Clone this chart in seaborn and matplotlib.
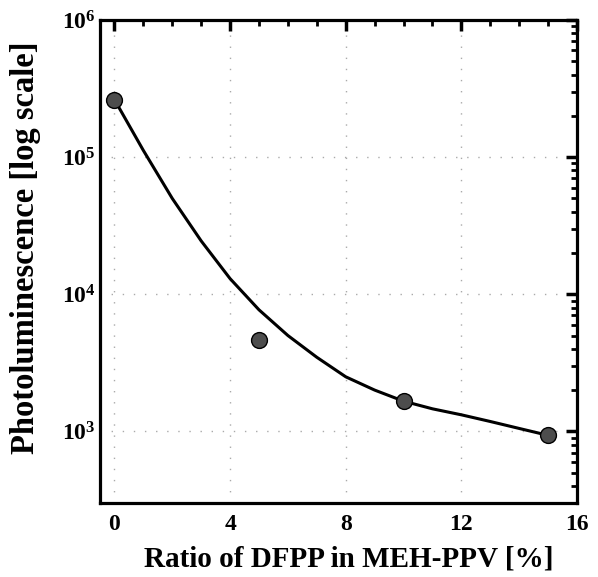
import numpy as np
import pandas as pd
import matplotlib
matplotlib.use("Agg")
import matplotlib.pyplot as plt
import seaborn as sns
from matplotlib.ticker import MultipleLocator, LogLocator, FixedLocator, NullFormatter

# measured points
ratio = [0, 5, 10, 15]
pl = [2.6e5, 4.6e3, 1.66e3, 935]

# fitted curve
curve_x = [0, 1, 2, 3, 4, 5, 6, 7, 8, 9, 10, 11, 12, 13, 14, 15]
curve_y = [2.63e5, 1.12e5, 5.0e4, 2.45e4, 1.3e4, 7.7e3, 5.0e3, 3.47e3,
           2.5e3, 2.0e3, 1.66e3, 1.46e3, 1.32e3, 1.18e3, 1.05e3, 935]

sns.set_style("white")
plt.rcParams["font.family"] = ["Liberation Serif", "DejaVu Serif"]
plt.rcParams["font.weight"] = "bold"
plt.rcParams["mathtext.fontset"] = "custom"
plt.rcParams["mathtext.rm"] = "Liberation Serif:bold"
plt.rcParams["mathtext.it"] = "Liberation Serif:bold"
plt.rcParams["mathtext.bf"] = "Liberation Serif:bold"
plt.rcParams["text.color"] = "black"
plt.rcParams["axes.labelcolor"] = "black"
plt.rcParams["xtick.color"] = "black"
plt.rcParams["ytick.color"] = "black"

df_pts = pd.DataFrame({"ratio": ratio, "pl": pl})
df_fit = pd.DataFrame({"ratio": curve_x, "pl": curve_y})

fig = plt.figure(figsize=(5.98, 5.77), dpi=100)
ax = fig.add_axes([0.1672, 0.1282, 0.7977, 0.837])

ax.set_yscale("log")
sns.lineplot(data=df_fit, x="ratio", y="pl", ax=ax, color="black", lw=2.2, zorder=3)
sns.scatterplot(data=df_pts, x="ratio", y="pl", ax=ax, s=130, color="#4d4d4d",
                edgecolor="black", linewidth=1.0, zorder=4)

ax.set_xlim(-0.5, 16)
ax.set_ylim(300, 1e6)

ax.xaxis.set_major_locator(MultipleLocator(4))
ax.xaxis.set_minor_locator(MultipleLocator(1))
ax.yaxis.set_major_locator(FixedLocator([1e3, 1e4, 1e5, 1e6]))
ax.yaxis.set_minor_locator(LogLocator(base=10, subs=np.arange(2, 10), numticks=20))
ax.set_yticklabels([r"$10^{3}$", r"$10^{4}$", r"$10^{5}$", r"$10^{6}$"])
ax.yaxis.set_minor_formatter(NullFormatter())

ax.tick_params(which="major", direction="in", length=8, width=2.5,
               top=True, right=True, labelsize=17, colors="black")
ax.tick_params(axis="x", which="major", pad=8)
ax.tick_params(axis="y", which="major", pad=3)
ax.tick_params(which="minor", direction="in", length=4, width=2,
               top=True, right=True, colors="black")

ax.grid(True, which="major", linestyle=(0, (1, 7)), color="#aaaaaa", lw=1)

for s in ax.spines.values():
    s.set_linewidth(2.3)
    s.set_color("black")

ax.set_xlabel("Ratio of DFPP in MEH-PPV [%]", fontsize=21, fontweight="bold", color="black")
ax.set_ylabel("Photoluminescence [log scale]", fontsize=23.5, fontweight="bold", color="black")
ax.xaxis.set_label_coords(0.522, -0.088)
ax.yaxis.set_label_coords(-0.124, 0.529)

fig.savefig("out.png", dpi=100)
